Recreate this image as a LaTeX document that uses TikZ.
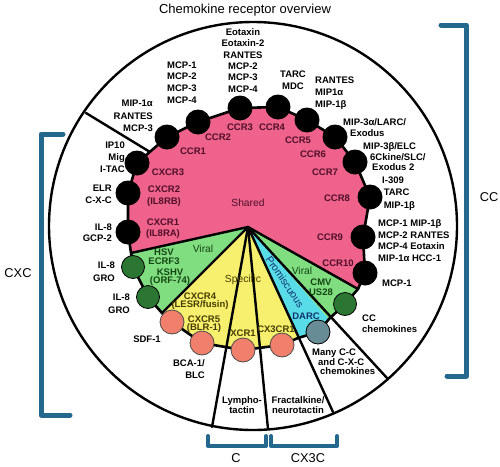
\documentclass[tikz,border=0pt]{standalone}
\usepackage{fontspec}
\setmainfont{Liberation Sans}
\definecolor{pinkF}{RGB}{238,98,140}
\definecolor{greenF}{RGB}{128,222,128}
\definecolor{yellowF}{RGB}{246,240,110}
\definecolor{cyanF}{RGB}{88,220,232}
\definecolor{dotG}{RGB}{44,118,52}
\definecolor{dotS}{RGB}{240,128,108}
\definecolor{dotD}{RGB}{104,140,150}
\definecolor{brk}{RGB}{36,104,142}
\definecolor{maroon}{RGB}{80,16,40}
\definecolor{dgreen}{RGB}{20,70,20}
\definecolor{olive}{RGB}{70,60,0}
\definecolor{navy}{RGB}{20,50,110}
\begin{document}
\begin{tikzpicture}[x=1pt,y=-1pt,
  lab/.style={font=\fontsize{9.5}{11.5}\selectfont\bfseries, inner sep=0pt, align=center},
  tight/.style={font=\fontsize{9.5}{8.6}\selectfont\bfseries, inner sep=0pt, align=center},
  region/.style={font=\fontsize{10.3}{12}\selectfont, inner sep=0pt},
  big/.style={font=\fontsize{12.8}{14}\selectfont, inner sep=0pt},
  bdot/.style={circle, fill=black, minimum size=25pt, inner sep=0pt},
  gdot/.style={circle, fill=dotG, draw=black, line width=0.8pt, minimum size=23pt, inner sep=0pt},
  sdot/.style={circle, fill=dotS, draw=black!70, line width=0.8pt, minimum size=24pt, inner sep=0pt},
  ddot/.style={circle, fill=dotD, draw=black, line width=0.8pt, minimum size=24pt, inner sep=0pt},
  spoke/.style={line width=2.4pt, line cap=round},
  bracket/.style={line width=5pt, draw=brk, line cap=round, line join=round},
  sbracket/.style={line width=4pt, draw=brk, line cap=round, line join=round}]
\useasboundingbox (0,0) rectangle (500,466);
% key points
\coordinate (H) at (248,227);
\coordinate (O) at (253,226);
\coordinate (cxcr1) at (128,232);
\coordinate (cxcr2) at (128,193);
\coordinate (cxcr3) at (137,163);
\coordinate (ccr1) at (167,137);
\coordinate (ccr2) at (198,122);
\coordinate (ccr3) at (240,108);
\coordinate (ccr4) at (278,107);
\coordinate (ccr5) at (307,120);
\coordinate (ccr6) at (335,137);
\coordinate (ccr7) at (355,162);
\coordinate (ccr8) at (370,197);
\coordinate (ccr9) at (363,237);
\coordinate (ccr10) at (365,273);
\coordinate (b1) at (131,253);
\coordinate (hsv) at (133,267);
\coordinate (kshv) at (148,297);
\coordinate (b2) at (162,313);
\coordinate (cxcr4) at (172,322);
\coordinate (cxcr5) at (202,343);
\coordinate (xcr1) at (243,350);
\coordinate (cx3cr1) at (282,345);
\coordinate (b3) at (298,338);
\coordinate (darc) at (318,332);
\coordinate (b4) at (329,319);
\coordinate (cmv) at (345,304);
\coordinate (b5) at (358,289);
% points on the outer circle
\coordinate (e1) at (212,427);
\coordinate (e2) at (268,429);
\coordinate (e3) at (333,412);
\coordinate (e4) at (387,378);
\coordinate (e5) at (86,113);
\coordinate (e6) at (150,152);
% title
\node[font=\fontsize{13}{15}\selectfont, inner sep=0pt] (title) at (245,10) {Chemokine receptor overview};
% regions
\fill[pinkF] (H) -- (b1) -- (cxcr1) -- (cxcr2) -- (cxcr3) -- (ccr1) -- (ccr2) -- (ccr3) -- (ccr4) -- (ccr5) -- (ccr6) -- (ccr7) -- (ccr8) -- (ccr9) -- (ccr10) -- (b5) -- cycle;
\fill[greenF] (H) -- (b1) -- (hsv) -- (kshv) -- (b2) -- cycle;
\fill[yellowF] (H) -- (b2) -- (cxcr4) -- (cxcr5) -- (xcr1) -- (cx3cr1) -- (b3) -- cycle;
\fill[cyanF] (H) -- (b3) -- (darc) -- (b4) -- cycle;
\fill[greenF] (H) -- (b4) -- (cmv) -- (b5) -- cycle;
% spokes
\draw[spoke] (H) -- (b1);
\draw[spoke] (H) -- (b2);
\draw[spoke] (H) -- (b5);
\draw[spoke] (H) -- (e1);
\draw[spoke] (H) -- (e2);
\draw[spoke] (H) -- (e3);
\draw[spoke] (H) -- (e4);
\draw[spoke] (e5) -- (e6);
% chain
\draw[line width=2.6pt, line join=round] (cxcr1) -- (cxcr2) -- (cxcr3) -- (ccr1) -- (ccr2) -- (ccr3) -- (ccr4) -- (ccr5) -- (ccr6) -- (ccr7) -- (ccr8) -- (ccr9) -- (ccr10) -- (b5) -- (cmv) -- (b4) -- (darc) -- (b3) -- (cx3cr1) -- (xcr1) -- (cxcr5) -- (cxcr4) -- (b2) -- (kshv) -- (hsv) -- (b1) -- cycle;
% outer circle
\draw[line width=2.4pt] (O) circle[radius=204];
% dots
\foreach \p in {cxcr1,cxcr2,cxcr3,ccr1,ccr2,ccr3,ccr4,ccr5,ccr6,ccr7,ccr8,ccr9,ccr10}
  \node[bdot] (d-\p) at (\p) {};
\foreach \p in {hsv,kshv,cmv}
  \node[gdot] (d-\p) at (\p) {};
\foreach \p in {cxcr4,cxcr5,xcr1,cx3cr1}
  \node[sdot] (d-\p) at (\p) {};
\node[ddot] (d-darc) at (darc) {};
% receptor labels (pink)
\begin{scope}[every node/.append style={text=maroon}]
\node[lab] (l-ccr1) at (193,151) {CCR1};
\node[lab] (l-ccr2) at (218,137) {CCR2};
\node[lab] (l-ccr3) at (240,127) {CCR3};
\node[lab] (l-ccr4) at (272,127) {CCR4};
\node[lab] (l-ccr5) at (298,140) {CCR5};
\node[lab] (l-ccr6) at (313,154) {CCR6};
\node[lab] (l-ccr7) at (325,172) {CCR7};
\node[lab] (l-ccr8) at (337,198) {CCR8};
\node[lab] (l-ccr9) at (330,237) {CCR9};
\node[lab] (l-ccr10) at (338,263) {CCR10};
\node[lab] (l-cxcr3) at (168,172) {CXCR3};
\node[lab] (l-cxcr2) at (164,196) {CXCR2\\(IL8RB)};
\node[lab] (l-cxcr1) at (163,228.5) {CXCR1\\(IL8RA)};
\node[region] (shared) at (248,203) {Shared};
\end{scope}
% green regions
\begin{scope}[every node/.append style={text=dgreen}]
\node[tight] (l-hsv) at (164,257) {HSV\\ECRF3};
\node[tight] (l-kshv) at (170,277) {KSHV\\(ORF-74)};
\node[region] (viral1) at (203,249) {Viral};
\node[region] (viral2) at (302,271) {Viral};
\node[tight, font=\fontsize{9.5}{9.5}\selectfont\bfseries] (l-cmv) at (321,287) {CMV\\US28};
\end{scope}
% yellow
\begin{scope}[every node/.append style={text=olive}]
\node[region] (specific) at (243,280) {Specific};
\node[tight] (l-cxcr4) at (200,301) {CXCR4\\(LESR/fusin)};
\node[tight] (l-cxcr5) at (204,324) {CXCR5\\(BLR-1)};
\node[lab] (l-xcr1) at (243,333) {XCR1};
\node[lab] (l-cx3cr1) at (276,329) {CX3CR1};
\end{scope}
\node[lab, text=navy] (l-darc) at (306,316) {DARC};
\node[region, text=navy, rotate=-56] (prom) at (285,282) {Promiscuous};
% ligand labels (outside)
\node[lab, font=\fontsize{9.5}{11.4}\selectfont\bfseries] (g-ccr3) at (243,60.5) {Eotaxin\\Eotaxin-2\\RANTES\\MCP-2\\MCP-3\\MCP-4};
\node[lab, font=\fontsize{9.5}{11.7}\selectfont\bfseries] (g-ccr2) at (182,82.5) {MCP-1\\MCP-2\\MCP-3\\MCP-4};
\node[lab, font=\fontsize{9.5}{12}\selectfont\bfseries] (g-ccr4) at (293,80) {TARC\\MDC};
\node[lab, anchor=west, align=left, font=\fontsize{9.5}{12}\selectfont\bfseries] (g-ccr5) at (315,93) {RANTES\\MIP1α\\MIP-1β};
\node[lab, anchor=east, align=right, font=\fontsize{9.5}{12.5}\selectfont\bfseries] (g-ccr1) at (153,116) {MIP-1α\\RANTES\\MCP-3};
\node[lab, anchor=west] (g-ccr6a) at (343,122) {MIP-3α/LARC/};
\node[lab, anchor=west] (g-ccr6b) at (350,133) {Exodus};
\node[lab, anchor=west] (g-ccr7a) at (363,147) {MIP-3β/ELC};
\node[lab, anchor=west] (g-ccr7b) at (370,157) {6Ckine/SLC/};
\node[lab, anchor=west] (g-ccr7c) at (372,167) {Exodus 2};
\node[lab, anchor=west, align=left, font=\fontsize{9.5}{12.5}\selectfont\bfseries] (g-ccr8) at (382,193.5) {I-309\\\,TARC\\\,MIP-1β};
\node[lab, anchor=west, align=left, font=\fontsize{9.5}{11.7}\selectfont\bfseries] (g-ccr9) at (378,240.5) {MCP-1 MIP-1β\\MCP-2 RANTES\\MCP-4 Eotaxin\\MIP-1α HCC-1};
\node[lab, anchor=west] (g-ccr10) at (382,283) {MCP-1};
\node[lab, anchor=west, align=left] (g-cmv) at (362,323.5) {CC\\chemokines};
\node[lab, anchor=west] (g-darc1) at (312,353) {Many C-C};
\node[lab, anchor=west] (g-darc2) at (318,362) {and C-X-C};
\node[lab, anchor=west] (g-darc3) at (320,371) {chemokines};
\node[lab, font=\fontsize{9.5}{10.5}\selectfont\bfseries] (g-cx3cr1) at (298,405) {Fractalkine/\\neurotactin};
\node[lab, font=\fontsize{9.5}{10.5}\selectfont\bfseries] (g-xcr1) at (242,405) {Lympho-\\tactin};
\node[lab, anchor=east, align=right] (g-cxcr5) at (205,369) {BCA-1/\\BLC};
\node[lab] (g-cxcr4) at (147,339) {SDF-1};
\node[lab, anchor=east, align=right, font=\fontsize{9.5}{12.5}\selectfont\bfseries] (g-kshv) at (130,303.5) {IL-8\\GRO};
\node[lab, anchor=east, align=right, font=\fontsize{9.5}{12.5}\selectfont\bfseries] (g-hsv) at (115,271.5) {IL-8\\GRO};
\node[lab, anchor=east, align=right] (g-cxcr1) at (112,232.5) {IL-8\\GCP-2};
\node[lab, anchor=east, align=right] (g-cxcr2) at (112,194.5) {ELR\\C-X-C};
\node[lab, anchor=east, align=right, font=\fontsize{9.5}{12}\selectfont\bfseries] (g-cxcr3) at (125,157) {IP10\\Mig\\I-TAC};
% brackets
\coordinate (cc1) at (441,25);
\coordinate (cc2) at (466,25);
\coordinate (cc3) at (466,376);
\coordinate (cc4) at (447,376);
\draw[bracket] (cc1) -- (cc2) -- (cc3) -- (cc4);
\coordinate (cx1) at (63,134);
\coordinate (cx2) at (41,134);
\coordinate (cx3) at (41,415);
\coordinate (cx4) at (70,415);
\draw[bracket] (cx1) -- (cx2) -- (cx3) -- (cx4);
\coordinate (c1) at (208,436);
\coordinate (c2) at (208,446);
\coordinate (c3) at (266,446);
\coordinate (c4) at (266,436);
\draw[sbracket] (c1) -- (c2) -- (c3) -- (c4);
\coordinate (x1) at (271,436);
\coordinate (x2) at (271,446);
\coordinate (x3) at (337,446);
\coordinate (x4) at (337,436);
\draw[sbracket] (x1) -- (x2) -- (x3) -- (x4);
\node[big] (lab-cc) at (489,197) {CC};
\node[big] (lab-cxc) at (18,273) {CXC};
\node[big] (lab-c) at (236,458) {C};
\node[big] (lab-cx3c) at (308,458) {CX3C};
\end{tikzpicture}
\end{document}
